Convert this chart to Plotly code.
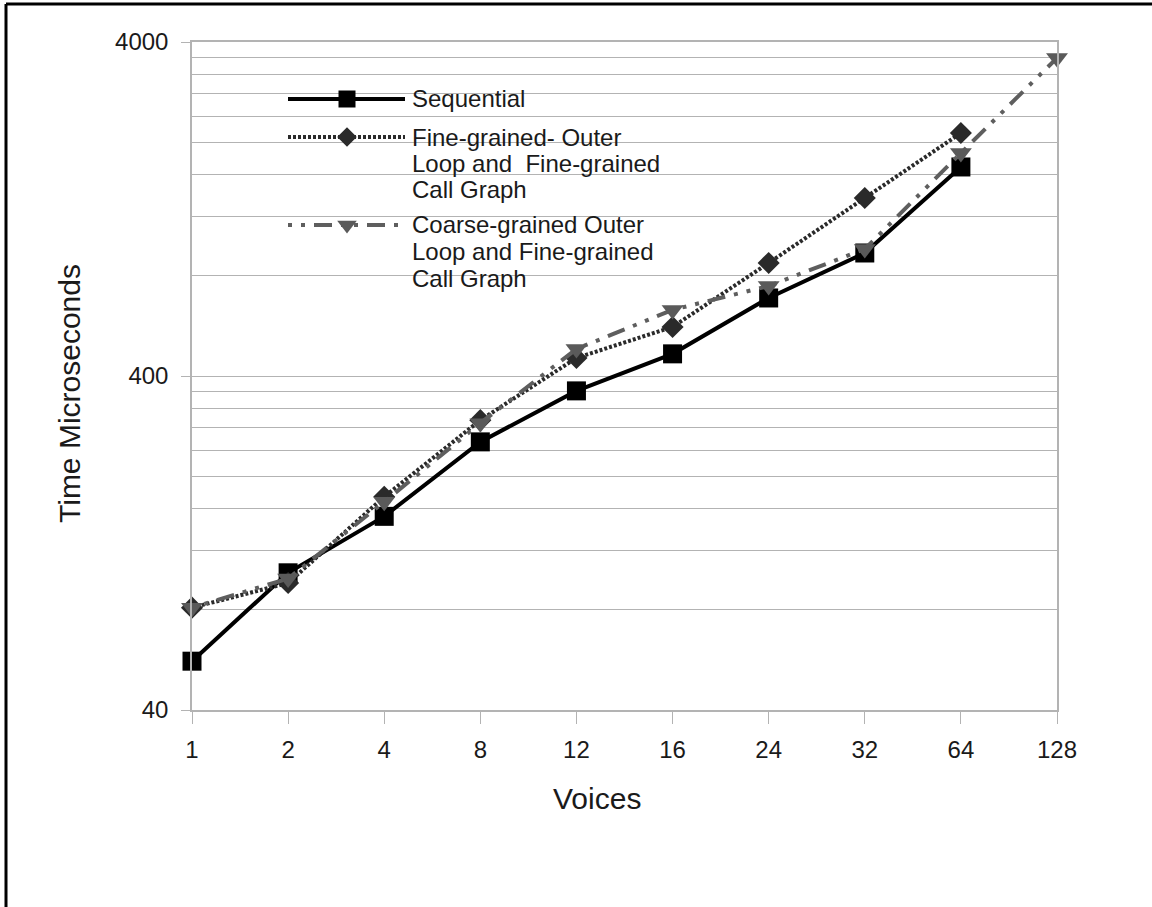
import math
import plotly.graph_objects as go

# ---- data -------------------------------------------------------------
voices = ["1", "2", "4", "8", "12", "16", "24", "32", "64", "128"]

sequential = [56, 103, 152, 254, 361, 466, 685, 934, 1690, None]
fine_grained = [81, 96, 174, 295, 453, 561, 872, 1364, 2136, None]
coarse_grained = [81, 99, 168, 289, 482, 631, 744, 960, 1860, 3584]

y_major = [40, 400, 4000]
y_minor = [80, 120, 160, 200, 240, 280, 320, 360,
           800, 1200, 1600, 2000, 2400, 2800, 3200, 3600]

seq_name = ["Sequential"]
fine_name = ["Fine-grained- Outer", "Loop and\u00a0 Fine-grained", "Call Graph"]
coarse_name = ["Coarse-grained Outer", "Loop and Fine-grained", "Call Graph"]

# ---- geometry ---------------------------------------------------------
W, H = 1152, 907
ML, MR, MT, MB = 192, 95, 42, 197
PW = W - ML - MR
PH = H - MT - MB
PLOT_BOTTOM = H - MB


def px_x(px):
    return (px - ML) / PW


def px_y(py):
    return (PLOT_BOTTOM - py) / PH


FONT = "Liberation Sans, Arial, sans-serif"
GRID = "#b3b3b3"
TXT = "#1a1a1a"

styles = {
    "seq": dict(color="#000000", dash="solid", width=4, symbol="square", size=19, mcolor="#000000"),
    "fine": dict(color="#2a2a2a", dash="3px,2px", width=4, symbol="diamond", size=17, mcolor="#2a2a2a"),
    "coarse": dict(color="#5e5e5e", dash="4px,9px,4px,9px,18px,9px", width=4,
                   symbol="triangle-down", size=19, mcolor="#5a5a5a"),
}

fig = go.Figure()

for key, name, vals in [("seq", "Sequential", sequential),
                        ("fine", "Fine-grained", fine_grained),
                        ("coarse", "Coarse-grained", coarse_grained)]:
    s = styles[key]
    fig.add_trace(go.Scatter(
        x=voices, y=vals, mode="lines+markers", name=name,
        line=dict(color=s["color"], dash=s["dash"], width=s["width"]),
        marker=dict(symbol=s["symbol"], size=s["size"], color=s["mcolor"]),
        cliponaxis=False, showlegend=False,
    ))

# ---- legend (drawn on a hidden overlay axis in plot-fraction units) ----
legend_rows = [("seq", 99, seq_name), ("fine", 137, fine_name), ("coarse", 225, coarse_name)]
LX0, LXM, LX1, LTX = 288, 347, 405, 410
LINE_STEP = 26.5

annotations = []
for key, ypix, lines in legend_rows:
    s = styles[key]
    fig.add_trace(go.Scatter(
        x=[px_x(LX0), px_x(LX1)], y=[px_y(ypix)] * 2, mode="lines",
        line=dict(color=s["color"], dash=s["dash"], width=s["width"]),
        xaxis="x2", yaxis="y2", showlegend=False, hoverinfo="skip",
    ))
    fig.add_trace(go.Scatter(
        x=[px_x(LXM)], y=[px_y(ypix)], mode="markers",
        marker=dict(symbol=s["symbol"], size=s["size"] - 2, color=s["mcolor"]),
        xaxis="x2", yaxis="y2", showlegend=False, hoverinfo="skip",
    ))
    for i, t in enumerate(lines):
        annotations.append(dict(
            text=t, xref="paper", yref="paper",
            x=px_x(LTX), y=px_y(ypix + i * LINE_STEP),
            xanchor="left", yanchor="middle", showarrow=False,
            font=dict(family=FONT, size=24, color=TXT),
        ))

# axis titles
annotations.append(dict(
    text="Time Microseconds", xref="paper", yref="paper",
    x=px_x(70), y=px_y(393), textangle=-90, showarrow=False,
    xanchor="center", yanchor="middle",
    font=dict(family=FONT, size=30, color=TXT),
))
annotations.append(dict(
    text="Voices", xref="paper", yref="paper",
    x=px_x(597), y=px_y(798), showarrow=False,
    xanchor="center", yanchor="middle",
    font=dict(family=FONT, size=30, color=TXT),
))

# frame lines along the top and left of the canvas
shapes = [
    dict(type="line", xref="paper", yref="paper",
         x0=px_x(6), x1=px_x(W + 5), y0=px_y(4), y1=px_y(4),
         line=dict(color="#000000", width=3)),
    dict(type="line", xref="paper", yref="paper",
         x0=px_x(6), x1=px_x(6), y0=px_y(4), y1=px_y(H + 5),
         line=dict(color="#000000", width=3)),
]

fig.update_layout(
    width=W, height=H,
    margin=dict(l=ML, r=MR, t=MT, b=MB, pad=0),
    paper_bgcolor="white", plot_bgcolor="white",
    font=dict(family=FONT, color=TXT),
    showlegend=False,
    annotations=annotations,
    shapes=shapes,
    xaxis=dict(
        type="category", categoryorder="array", categoryarray=voices,
        range=[0, len(voices) - 1],
        showgrid=False, zeroline=False,
        showline=True, linecolor=GRID, linewidth=1.5, mirror=True,
        ticks="outside", ticklen=12, tickcolor=GRID, tickwidth=1.2,
        tickfont=dict(family=FONT, size=24, color=TXT),
        ticklabelstandoff=5,
    ),
    yaxis=dict(
        type="log",
        range=[math.log10(y_major[0]), math.log10(y_major[-1])],
        tickmode="array", tickvals=y_major, ticktext=[str(v) for v in y_major],
        showgrid=True, gridcolor=GRID, gridwidth=1.2,
        minor=dict(tickmode="array", tickvals=y_minor, showgrid=True,
                   gridcolor=GRID, gridwidth=1.2, ticklen=0),
        zeroline=False,
        showline=True, linecolor=GRID, linewidth=1.5, mirror=True,
        ticks="outside", ticklen=9, tickcolor=GRID, tickwidth=1.2,
        tickfont=dict(family=FONT, size=24, color=TXT),
        ticklabelstandoff=8,
    ),
    xaxis2=dict(overlaying="x", anchor="y2", range=[0, 1], visible=False),
    yaxis2=dict(overlaying="y", anchor="x2", range=[0, 1], visible=False),
)

fig.write_html("out.html")
